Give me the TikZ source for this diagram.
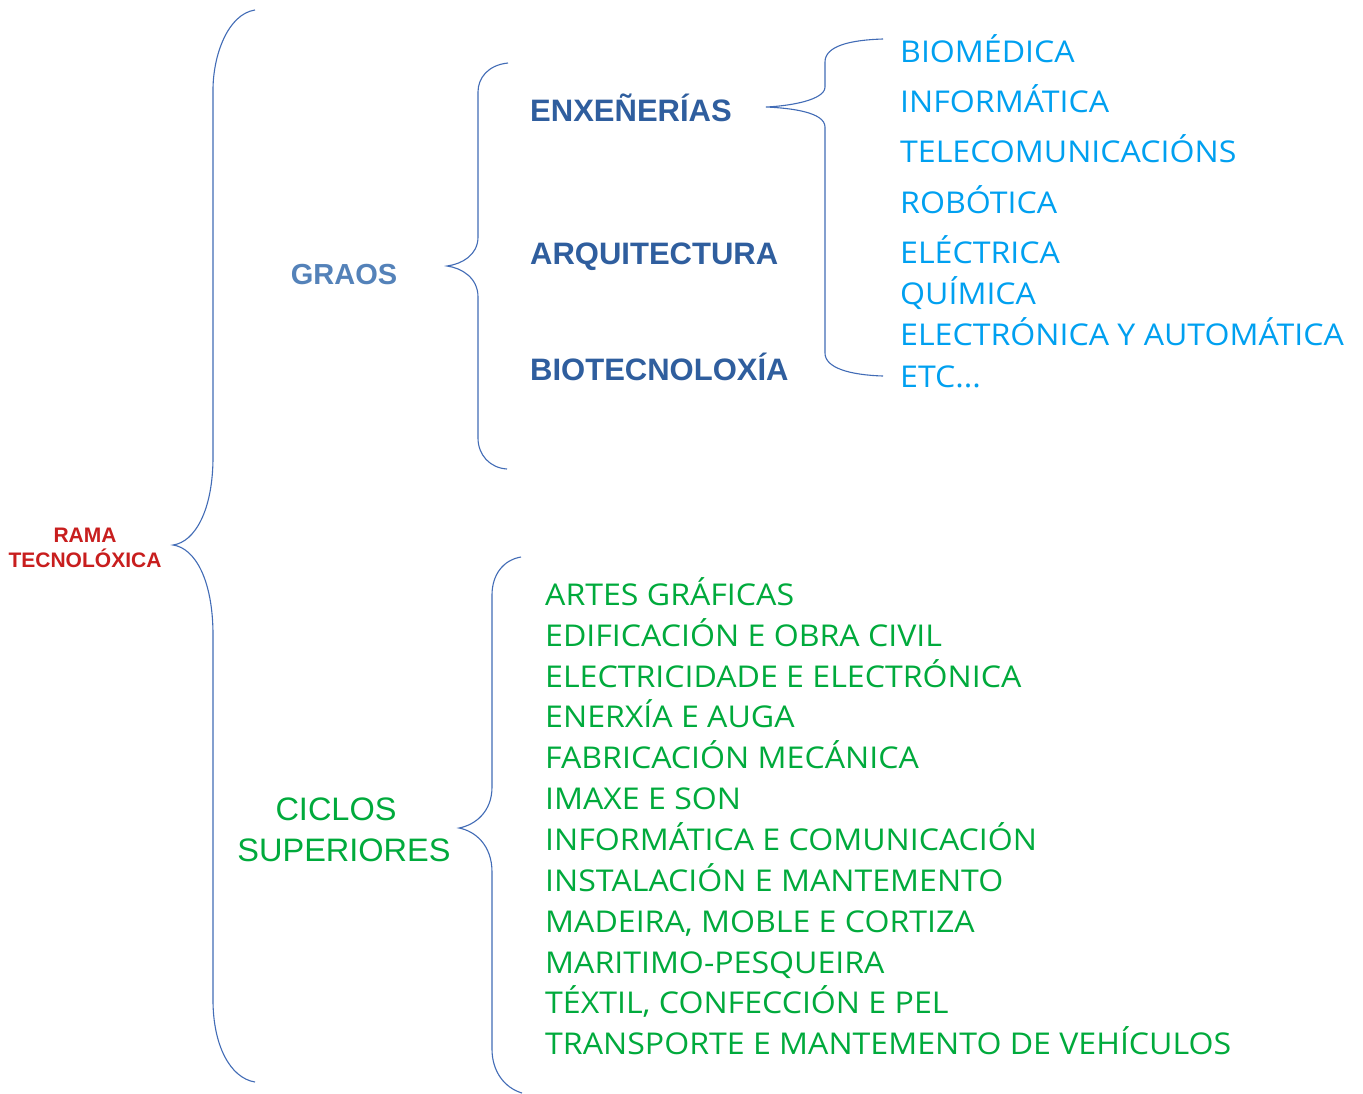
\documentclass[tikz,border=0pt]{standalone}
\usepackage{fontspec}
\setmainfont{Liberation Sans}
\newfontfamily\handfont[FakeStretch=1.07]{Open Sans}
\definecolor{bracecol}{RGB}{66,108,182}
\definecolor{ramared}{RGB}{200,30,30}
\definecolor{graoscol}{RGB}{84,130,185}
\definecolor{darkblue}{RGB}{47,94,158}
\definecolor{lightblue}{RGB}{0,160,240}
\definecolor{listgreen}{RGB}{0,170,60}
\tikzset{
  bracestyle/.style={draw=bracecol, line width=1.1pt},
  toplabel/.style={inner sep=0pt, font=\fontsize{21}{25}\selectfont\bfseries, text=ramared, align=center},
  graolabel/.style={inner sep=0pt, anchor=base, font=\fontsize{29}{32}\selectfont\bfseries, text=graoscol},
  ciclolabel/.style={inner sep=0pt, font=\fontsize{32.5}{41}\selectfont, text=listgreen, align=center},
  grado/.style={inner sep=0pt, anchor=base west, font=\fontsize{31}{35}\selectfont\bfseries, text=darkblue},
  bluelist/.style={inner sep=0pt, anchor=base west, font=\handfont\fontsize{30}{32}\selectfont, text=lightblue},
  greenlist/.style={inner sep=0pt, anchor=base west, font=\handfont\fontsize{30}{32}\selectfont, text=listgreen}
}
\begin{document}
\begin{tikzpicture}[x=1pt,y=-1pt]
\path[use as bounding box, fill=white] (0,0) rectangle (1363,1093);

% labels
\node[toplabel] (rama) at (85,548) {RAMA\\TECNOLÓXICA};
\node[graolabel] (graos) at (344,284) {GRAOS};
\node[ciclolabel] (ciclos) at (344,830) {CICLOS\hspace*{16pt}\\SUPERIORES};

\node[grado] (enx) at (530,121) {ENXEÑERÍAS};
\node[grado] (arq) at (530,264) {ARQUITECTURA};
\node[grado] (bio) at (530,380) {BIOTECNOLOXÍA};

\node[bluelist] (b1) at (900,62) {BIOMÉDICA};
\node[bluelist] (b2) at (900,112) {INFORMÁTICA};
\node[bluelist] (b3) at (900,162) {TELECOMUNICACIÓNS};
\node[bluelist] (b4) at (900,213) {ROBÓTICA};
\node[bluelist] (b5) at (900,263) {ELÉCTRICA};
\node[bluelist] (b6) at (900,304) {QUÍMICA};
\node[bluelist] (b7) at (900,345) {ELECTRÓNICA Y AUTOMÁTICA};
\node[bluelist] (b8) at (900,387) {ETC...};

\node[greenlist] (g1) at (545,605) {ARTES GRÁFICAS};
\node[greenlist] (g2) at (545,646) {EDIFICACIÓN E OBRA CIVIL};
\node[greenlist] (g3) at (545,687) {ELECTRICIDADE E ELECTRÓNICA};
\node[greenlist] (g4) at (545,727) {ENERXÍA E AUGA};
\node[greenlist] (g5) at (545,768) {FABRICACIÓN MECÁNICA};
\node[greenlist] (g6) at (545,809) {IMAXE E SON};
\node[greenlist] (g7) at (545,850) {INFORMÁTICA E COMUNICACIÓN};
\node[greenlist] (g8) at (545,891) {INSTALACIÓN E MANTEMENTO};
\node[greenlist] (g9) at (545,932) {MADEIRA, MOBLE E CORTIZA};
\node[greenlist] (g10) at (545,973) {MARITIMO-PESQUEIRA};
\node[greenlist] (g11) at (545,1013) {TÉXTIL, CONFECCIÓN E PEL};
\node[greenlist] (g12) at (545,1054) {TRANSPORTE E MANTEMENTO DE VEHÍCULOS};

% brace coordinates
\coordinate (mainTop) at (255,10);
\coordinate (mainTip) at (173,545);
\coordinate (mainBot) at (255,1082);
\coordinate (grTop) at (508,63);
\coordinate (grTip) at (447,266);
\coordinate (grBot) at (507,469);
\coordinate (enTop) at (883,39);
\coordinate (enTip) at (766,107);
\coordinate (enBot) at (883,376);
\coordinate (ciTop) at (521,557);
\coordinate (ciTip) at (459,828);
\coordinate (ciBot) at (522,1093);

% main brace
\draw[bracestyle] (mainTop) .. controls (228,14) and (213,55) .. (213,90)
  -- (213,457) .. controls (213,510) and (195,542) .. (mainTip)
  .. controls (195,548) and (213,580) .. (213,635)
  -- (213,1000) .. controls (213,1045) and (230,1078) .. (mainBot);

% graos brace
\draw[bracestyle] (grTop) .. controls (488,65) and (478,78) .. (478,92)
  -- (478,237) .. controls (478,255) and (462,264) .. (grTip)
  .. controls (462,268) and (478,278) .. (478,297)
  -- (478,438) .. controls (478,455) and (490,468) .. (grBot);

% enxenerias brace
\draw[bracestyle] (enTop) .. controls (850,40) and (825,46) .. (825,62)
  -- (825,87) .. controls (825,100) and (790,106) .. (enTip)
  .. controls (790,108) and (825,112) .. (825,127)
  -- (825,353) .. controls (825,368) and (850,375) .. (enBot);

% ciclos brace
\draw[bracestyle] (ciTop) .. controls (503,560) and (492,575) .. (492,595)
  -- (492,787) .. controls (492,812) and (475,825) .. (ciTip)
  .. controls (475,831) and (492,845) .. (492,872)
  -- (492,1049) .. controls (492,1072) and (505,1088) .. (ciBot);
\end{tikzpicture}
\end{document}
